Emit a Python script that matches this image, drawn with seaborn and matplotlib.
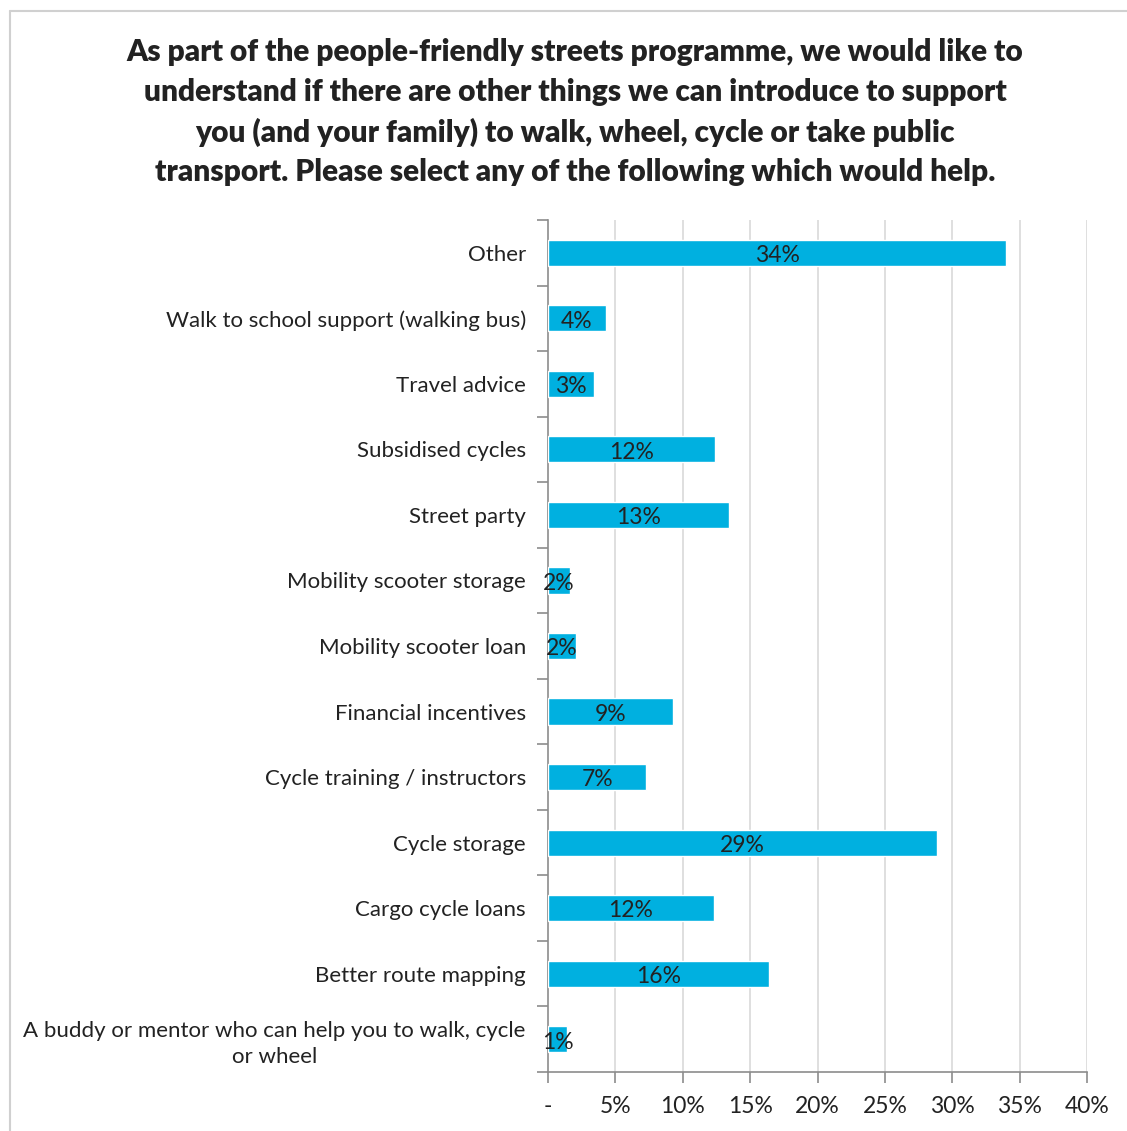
import matplotlib
matplotlib.use("Agg")
import matplotlib.pyplot as plt
from matplotlib.lines import Line2D
from matplotlib.ticker import FixedLocator
import seaborn as sns
import pandas as pd

# Survey options (top to bottom) and share of respondents selecting each
categories = [
    "Other",
    "Walk to school support (walking bus)",
    "Travel advice",
    "Subsidised cycles",
    "Street party",
    "Mobility scooter storage",
    "Mobility scooter loan",
    "Financial incentives",
    "Cycle training / instructors",
    "Cycle storage",
    "Cargo cycle loans",
    "Better route mapping",
    "A buddy or mentor who can help you to walk, cycle\nor wheel",
]
shares = [0.340, 0.043, 0.034, 0.124, 0.134, 0.016, 0.021,
          0.093, 0.073, 0.289, 0.123, 0.164, 0.014]

x_ticks = [0.0, 0.05, 0.10, 0.15, 0.20, 0.25, 0.30, 0.35, 0.40]
x_tick_labels = ["-", "5%", "10%", "15%", "20%", "25%", "30%", "35%", "40%"]

title = ("As part of the people-friendly streets programme, we would like to\n"
         "understand if there are other things we can introduce to support\n"
         "you (and your family) to walk, wheel, cycle or take public\n"
         "transport. Please select any of the following which would help.")

BAR = "#00B0E0"
TEXT = "#222222"
AXIS = "#8C8C8C"
GRID = "#D9D9D9"

sns.set_theme(style="white")
plt.rcParams["font.family"] = ["Lato", "DejaVu Sans"]

df = pd.DataFrame({"option": categories, "share": shares})

fig = plt.figure(figsize=(11.27, 11.31), dpi=100)
ax = fig.add_axes([548 / 1127, 1 - 1072 / 1131, (1087 - 548) / 1127, (1072 - 220) / 1131])

sns.barplot(data=df, x="share", y="option", order=categories, orient="h",
            color=BAR, saturation=1, width=0.4, ax=ax, zorder=3)

ax.set_xlim(0, 0.40)
ax.set_ylim(len(categories) - 0.5, -0.5)
ax.set_xlabel("")
ax.set_ylabel("")

# Value labels in the middle of each bar
labels = [f"{v * 100:.0f}%" for v in shares]
anns = ax.bar_label(ax.containers[0], labels=labels, label_type="center",
                    fontsize=16.5, color=TEXT, zorder=4)
for a in anns:
    a.xyann = (0, -2)

# Vertical gridlines
ax.set_xticks(x_ticks)
ax.set_xticklabels(x_tick_labels, fontsize=16.5, color=TEXT)
for xv in x_ticks[1:]:
    ax.axvline(xv, color=GRID, lw=1.2, zorder=0)

# Category tick marks sit between categories
ax.yaxis.set_minor_locator(FixedLocator([i - 0.5 for i in range(len(categories) + 1)]))
ax.tick_params(axis="y", which="major", length=0, pad=16, labelsize=16, labelcolor=TEXT)
ax.tick_params(axis="y", which="minor", length=8, width=1.2, color=AXIS, direction="out", left=True)
ax.tick_params(axis="x", which="major", length=8, width=1.2, color=AXIS, direction="out",
               bottom=True, pad=9)
for lab in ax.get_yticklabels():
    lab.set_multialignment("center")
    lab.set_linespacing(1.35)

for side in ["top", "right"]:
    ax.spines[side].set_visible(False)
for side in ["left", "bottom"]:
    ax.spines[side].set_color(AXIS)
    ax.spines[side].set_linewidth(1.2)

fig.text(575 / 1127, 1 - 38 / 1131, title, ha="center", va="top", fontsize=21.5,
         fontweight="heavy", color=TEXT, linespacing=1.5)

# Chart area border (top and left edges)
fig.add_artist(Line2D([10 / 1127, 10 / 1127], [0, 1 - 11 / 1131], color="#D0D0D0", lw=1.5,
                      transform=fig.transFigure))
fig.add_artist(Line2D([10 / 1127, 1], [1 - 11 / 1131, 1 - 11 / 1131], color="#D0D0D0", lw=1.5,
                      transform=fig.transFigure))

fig.savefig("out.png", dpi=100, facecolor="white")
